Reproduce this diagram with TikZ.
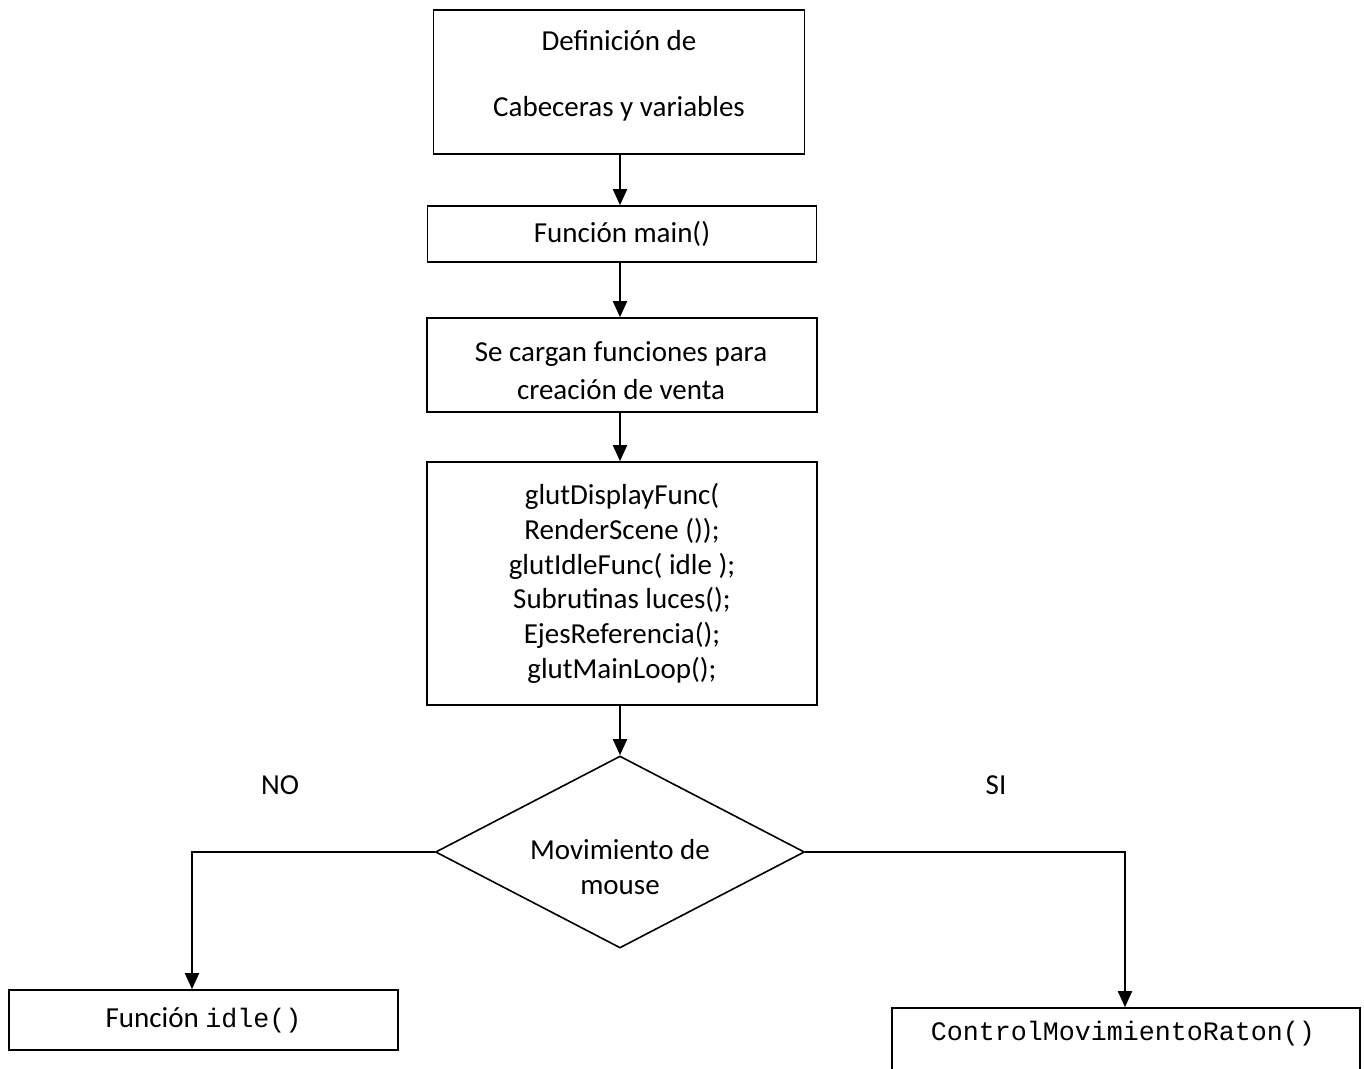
\documentclass[tikz,border=0pt]{standalone}
\usepackage{fontspec}
\setmainfont{Carlito}
\setmonofont{Liberation Mono}
\usetikzlibrary{shapes.geometric,arrows.meta}
\begin{document}
\begin{tikzpicture}[x=0.75pt,y=-0.75pt,
  box/.style={draw,line width=1.2pt,rectangle,inner sep=0pt,align=center,
    font=\fontsize{21.75}{26}\selectfont},
  txt/.style={inner sep=0pt,align=center,font=\fontsize{21.75}{26}\selectfont},
  mono/.style={font=\fontsize{20}{26}\ttfamily},
  dia/.style={draw,line width=1.2pt,diamond,inner sep=0pt,minimum width=369*0.75pt,minimum height=192*0.75pt},
  arr/.style={line width=1.4pt,-{Triangle[length=12pt,width=10.5pt]}},
  conn/.style={line width=1.2pt}]
\useasboundingbox (0,0) rectangle (1364,1068);
\node[box,minimum width=371*0.75pt,minimum height=144*0.75pt] (b1) at (619,82) {};
\node[txt] (b1t) at (619,76) {Definición de\\[23.5pt]Cabeceras y variables};
\node[box,minimum width=389*0.75pt,minimum height=56*0.75pt] (b2) at (622,234) {Función main()};
\node[box,minimum width=390*0.75pt,minimum height=94*0.75pt] (b3) at (622,365) {};
\node[txt] (b3t) at (621,371) {Se cargan funciones para\\[2.5pt]creación de venta};
\node[box,minimum width=390*0.75pt,minimum height=243*0.75pt] (b4) at (622,583.5) {glutDisplayFunc(\\RenderScene ());\\glutIdleFunc( idle );\\Subrutinas luces();\\EjesReferencia();\\glutMainLoop();};
\node[dia] (d) at (620,852) {};
\node[txt] (dt) at (620,867) {Movimiento de\\mouse};
\node[txt] (no) at (280,785) {NO};
\node[txt] (si) at (996,785) {SI};
\node[box,minimum width=389*0.75pt,minimum height=60*0.75pt] (lb) at (203.5,1020) {Función {\ttfamily\fontsize{20}{26}\selectfont idle()}};
\node[box,minimum width=468*0.75pt,minimum height=64*0.75pt] (rb) at (1126,1040) {};
\node[inner sep=0pt,mono] (rt) at (1123,1034) {ControlMovimientoRaton()};
\coordinate (la) at (192,852);
\coordinate (ra) at (1125,852);
\draw[arr] (b1.south -| 620,0) -- (b2.north -| 620,0);
\draw[arr] (b2.south -| 620,0) -- (b3.north -| 620,0);
\draw[arr] (b3.south -| 620,0) -- (b4.north -| 620,0);
\draw[arr] (b4.south -| d.north) -- (d.north);
\draw[arr] (d.west) -- (la) -- (la |- lb.north);
\draw[arr] (d.east) -- (ra) -- (ra |- rb.north);
\end{tikzpicture}
\end{document}
